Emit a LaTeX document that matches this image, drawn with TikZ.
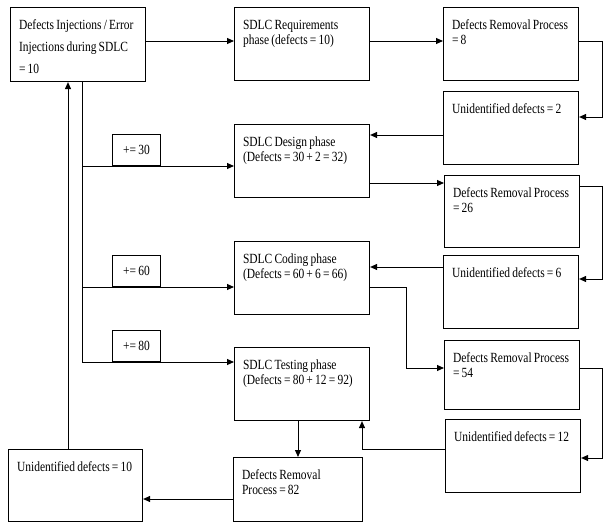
\documentclass[tikz,border=0pt]{standalone}
\usepackage{fontspec}
\newfontfamily\boxfont[FakeStretch=0.82]{Liberation Serif}
\newcommand\tightsp{\spaceskip=2.2pt plus 1pt minus 0.5pt\relax\hyphenpenalty=10000\relax}
\usetikzlibrary{arrows.meta}

\begin{document}
\begin{tikzpicture}[
    x=1pt,y=-1pt,
    every node/.style={font=\boxfont\fontsize{14}{14.5}\selectfont,
      execute at begin node=\tightsp},
    blk/.style={draw,line width=1.1pt,anchor=north west,align=left,
      text width=118pt,inner xsep=8.5pt,inner ysep=0pt,
      text height=22pt,text depth=51pt},
    tag/.style={draw,line width=1pt,anchor=south west,inner sep=0pt,
      minimum width=48pt,minimum height=31pt},
    flow/.style={draw,line width=1pt},
    arr/.style={flow,-{Triangle[length=7pt,width=6pt]}}]
  \useasboundingbox (0,0) rectangle (605,522);

  \node[blk,font=\boxfont\fontsize{14}{22}\selectfont,text depth=52pt] (inj) at (10,7)
    {Defects Injections / Error\\Injections during SDLC\\= 10};
  \node[blk] (req) at (234,7) {SDLC Requirements\\phase (defects = 10)};
  \node[blk] (drpA) at (443,7) {Defects Removal Process\\= 8};
  \node[blk] (unA) at (443,91) {Unidentified defects = 2};
  \node[blk] (des) at (234,124) {SDLC Design phase\\(Defects = 30 + 2 = 32)};
  \node[blk,text depth=50pt] (drpB) at (444,175) {Defects Removal Process\\= 26};
  \node[blk] (cod) at (234,241) {SDLC Coding phase\\(Defects = 60 + 6 = 66)};
  \node[blk] (unB) at (443,255) {Unidentified defects = 6};
  \node[blk] (tst) at (234,347) {SDLC Testing phase\\(Defects = 80 + 12 = 92)};
  \node[blk,text depth=47pt] (drpC) at (444,340) {Defects Removal Process\\= 54};
  \node[blk] (unC) at (445,419) {Unidentified defects = 12};
  \node[blk,text width=112pt,text depth=42pt] (drpD) at (233,457) {Defects Removal\\Process = 82};
  \node[blk,text width=117pt,text depth=50pt] (unD) at (8,449) {Unidentified defects = 10};

  \node[tag] (tA) at (112,166) {+= 30};
  \node[tag] (tB) at (112,287) {+= 60};
  \node[tag] (tC) at (112,362) {+= 80};

  \coordinate (jA) at (82,166);
  \coordinate (jB) at (82,287);

  \draw[arr] (inj.east |- 0,41) -- (req.west |- 0,41);
  \draw[arr] (req.east |- 0,41) -- (drpA.west |- 0,41);
  \draw[arr] (drpA.east |- 0,41) -- (602,41) |- (unA.east |- 0,117);
  \draw[arr] (unA.west |- 0,135) -- (des.east |- 0,135);
  % injections added in every phase
  \draw[arr] (inj.south -| 82,0) |- (tst.west |- 0,362);
  \draw[arr] (jA) -- (des.west |- jA);
  \draw[arr] (jB) -- (cod.west |- jB);
  \draw[arr] (des.east |- 0,183) -- (drpB.west |- 0,183);
  \draw[arr] (drpB.east |- 0,186) -- (602,186) |- (unB.east |- 0,279);
  \draw[arr] (unB.west |- 0,267) -- (cod.east |- 0,267);
  \draw[arr] (cod.east |- 0,287) -- (406,287) |- (drpC.west |- 0,368);
  \draw[arr] (drpC.east |- 0,368) -- (602,368) |- (unC.east |- 0,458);
  \draw[arr] (unC.west |- 0,449) -| (tst.south -| 362,0);
  \draw[arr] (tst.south -| 298,0) -- (drpD.north -| 298,0);
  \draw[arr] (drpD.west |- 0,499) -- (unD.east |- 0,499);
  \draw[arr] (unD.north -| 68,0) -- (inj.south -| 68,0);
\end{tikzpicture}
\end{document}
